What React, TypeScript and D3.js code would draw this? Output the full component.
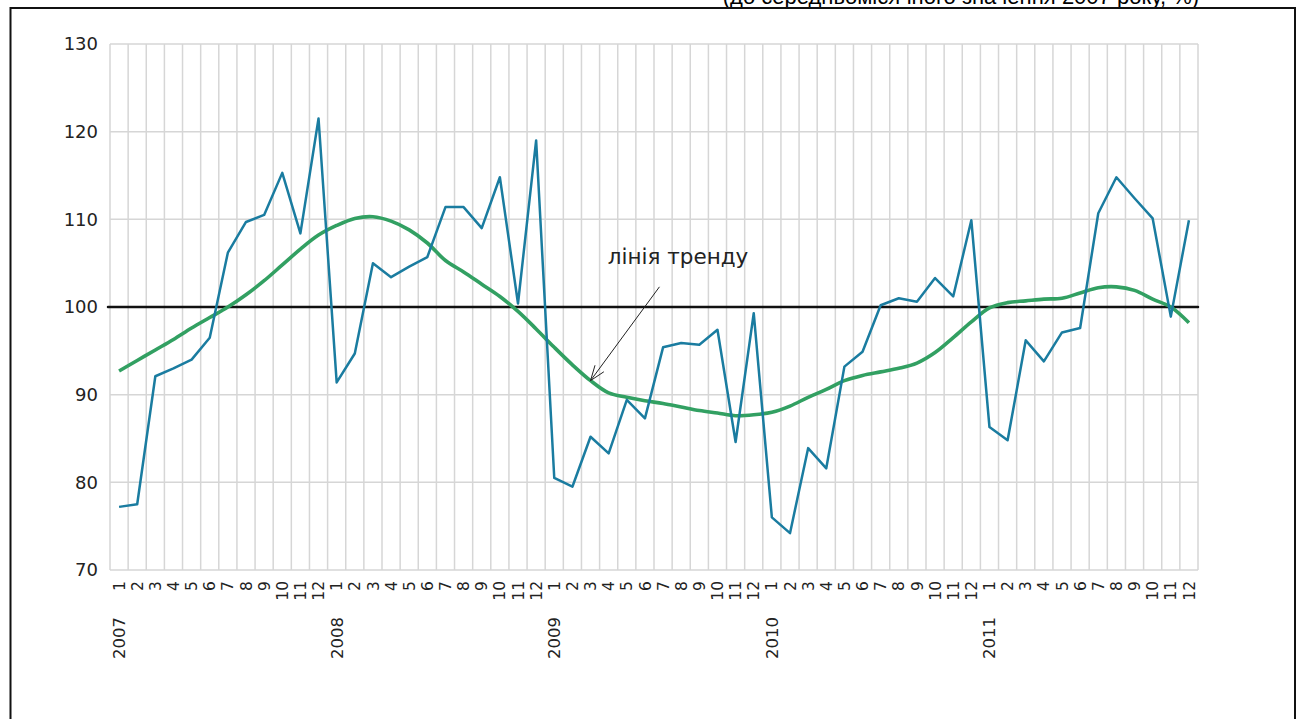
import React from 'react'
import * as d3 from 'd3'

// monthly index, % of 2007 monthly average
const years = ['2007', '2008', '2009', '2010', '2011']
const months = ['1', '2', '3', '4', '5', '6', '7', '8', '9', '10', '11', '12']

const actual = [
  77.2, 77.5, 92.1, 93.0, 94.0, 96.5, 106.2, 109.7, 110.5, 115.3, 108.4, 121.5,
  91.4, 94.7, 105.0, 103.4, 104.6, 105.7, 111.4, 111.4, 109.0, 114.8, 100.4, 119.0,
  80.5, 79.5, 85.2, 83.3, 89.4, 87.3, 95.4, 95.9, 95.7, 97.4, 84.6, 99.3,
  76.0, 74.2, 83.9, 81.6, 93.2, 94.9, 100.2, 101.0, 100.6, 103.3, 101.2, 109.9,
  86.3, 84.8, 96.2, 93.8, 97.1, 97.6, 110.7, 114.8, 112.4, 110.1, 98.9, 109.9,
]

const trend = [
  92.7, 93.9, 95.1, 96.3, 97.6, 98.8, 100.0, 101.4, 103.0, 104.8, 106.6, 108.2,
  109.3, 110.1, 110.3, 109.8, 108.8, 107.3, 105.3, 104.0, 102.6, 101.2, 99.5, 97.5,
  95.4, 93.4, 91.6, 90.2, 89.7, 89.3, 89.0, 88.6, 88.2, 87.9, 87.6, 87.7,
  88.0, 88.7, 89.7, 90.6, 91.6, 92.2, 92.6, 93.0, 93.6, 94.8, 96.5, 98.3,
  99.9, 100.5, 100.7, 100.9, 101.0, 101.6, 102.2, 102.3, 101.9, 100.9, 100.0, 98.2,
]

const yTicks = [70, 80, 90, 100, 110, 120, 130]
const baseValue = 100
const subtitle = '(до середньомісячного значення 2007 року, %)'
const trendLabel = 'лінія тренду'
// annotation: text position, arrow tail, arrow tip (month index, value)
const labelAt = [26.95, 104.9]
const arrowFrom = [29.8, 102.3]
const arrowTo = [26, 91.6]

const W = 1300
const H = 719
const plot = { left: 110, right: 1198, top: 44, bottom: 570 }

export default function App() {
  const n = actual.length
  const x = d3.scaleLinear().domain([-0.5, n - 0.5]).range([plot.left, plot.right])
  const y = d3.scaleLinear().domain([70, 130]).range([plot.bottom, plot.top])

  const blueLine = d3
    .line<number>()
    .x((_, i) => x(i))
    .y((d) => y(d))
  const greenLine = d3
    .line<number>()
    .x((_, i) => x(i))
    .y((d) => y(d))
    .curve(d3.curveCatmullRom)

  // arrow head
  const tx = x(arrowTo[0])
  const ty = y(arrowTo[1])
  const fx = x(arrowFrom[0])
  const fy = y(arrowFrom[1])
  const ang = Math.atan2(fy - ty, fx - tx)
  const headLen = 16
  const head = [-0.35, 0.35].map((a) => [
    tx + headLen * Math.cos(ang + a),
    ty + headLen * Math.sin(ang + a),
  ])

  return (
    <svg
      width={W}
      height={H}
      style={{ position: 'absolute', left: 0, top: 0, background: '#fff' }}
    >
      <text
        x={961}
        y={4}
        textAnchor="middle"
        fontFamily="'Liberation Sans', Arial, sans-serif"
        fontSize={22}
        fill="#000"
      >
        {subtitle}
      </text>
      <rect x={10.5} y={8} width={1284.5} height={800} fill="none" stroke="#111" strokeWidth={2} />

      {/* grid */}
      <g stroke="#d6d6d6" strokeWidth={1.5}>
        {d3.range(n + 1).map((i) => (
          <line key={'v' + i} x1={x(i - 0.5)} x2={x(i - 0.5)} y1={plot.top} y2={plot.bottom} />
        ))}
        {yTicks.map((t) => (
          <line key={'h' + t} x1={plot.left} x2={plot.right} y1={y(t)} y2={y(t)} />
        ))}
      </g>

      {/* y labels */}
      <g fontFamily="'DejaVu Sans', Verdana, sans-serif" fontSize={18} fill="#222">
        {yTicks.map((t) => (
          <text key={t} x={98} y={y(t)} dy="0.36em" textAnchor="end">
            {t}
          </text>
        ))}
      </g>

      {/* month labels */}
      <g fontFamily="'DejaVu Sans', Verdana, sans-serif" fontSize={15.5} fill="#222">
        {d3.range(n).map((i) => (
          <text
            key={i}
            transform={`translate(${x(i)},${plot.bottom + 11}) rotate(-90)`}
            textAnchor="end"
            dy="0.36em"
          >
            {months[i % 12]}
          </text>
        ))}
        {years.map((yr, k) => (
          <text
            key={yr}
            transform={`translate(${x(k * 12)},${plot.bottom + 47}) rotate(-90)`}
            textAnchor="end"
            dy="0.36em"
            fontSize={16.5}
          >
            {yr}
          </text>
        ))}
      </g>

      {/* base line at 100 */}
      <line
        x1={plot.left - 2}
        x2={plot.right}
        y1={y(baseValue)}
        y2={y(baseValue)}
        stroke="#111"
        strokeWidth={2.5}
        strokeLinecap="round"
      />

      <path d={greenLine(trend) || ''} fill="none" stroke="#32a062" strokeWidth={3.6} />
      <path d={blueLine(actual) || ''} fill="none" stroke="#1a7ca0" strokeWidth={2.5} strokeLinejoin="round" />

      {/* annotation */}
      <text
        x={x(labelAt[0])}
        y={y(labelAt[1])}
        fontFamily="'DejaVu Sans', Verdana, sans-serif"
        fontSize={21.5}
        fill="#222"
      >
        {trendLabel}
      </text>
      <g stroke="#222" strokeWidth={1} fill="none">
        <line x1={fx} y1={fy} x2={tx} y2={ty} />
        {head.map(([hx, hy], k) => (
          <line key={k} x1={tx} y1={ty} x2={hx} y2={hy} />
        ))}
      </g>
    </svg>
  )
}
